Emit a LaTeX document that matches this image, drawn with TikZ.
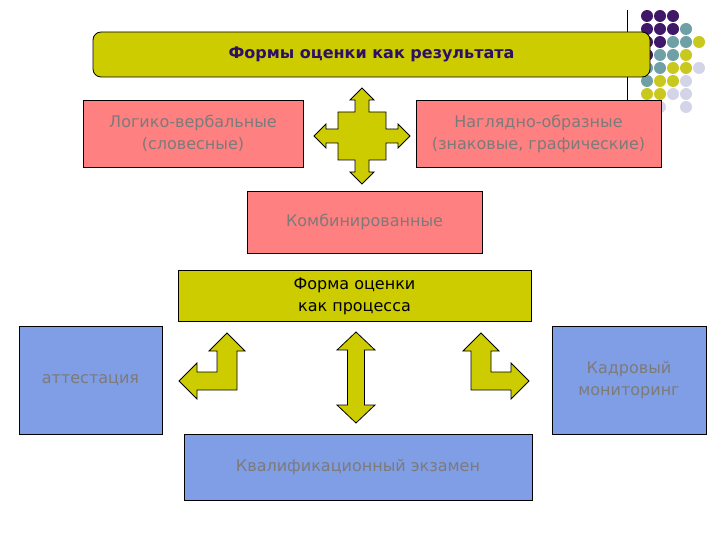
\documentclass[tikz,border=0pt]{standalone}
\usepackage{fontspec}
\setmainfont{DejaVu Sans}
\definecolor{OliveClr}{RGB}{204,204,0}
\definecolor{PinkClr}{RGB}{255,128,128}
\definecolor{BlueClr}{RGB}{128,158,230}
\definecolor{GrayTxtClr}{RGB}{125,122,122}
\definecolor{TitleClr}{RGB}{45,15,100}
\definecolor{PurpleClr}{RGB}{64,24,104}
\definecolor{TealClr}{RGB}{110,160,165}
\definecolor{YellowClr}{RGB}{200,200,30}
\definecolor{LilacClr}{RGB}{212,212,232}

\begin{document}
\begin{tikzpicture}[x=1pt,y=-1pt,
  box/.style={draw=black,line width=0.8pt,inner sep=0pt,align=center,
    font=\fontsize{16}{22}\selectfont},
  pinkbox/.style={box,fill=PinkClr,text=GrayTxtClr},
  bluebox/.style={box,fill=BlueClr,text=GrayTxtClr},
  olivebox/.style={box,fill=OliveClr},
  blockarrow/.style={draw=black,line width=0.8pt,fill=OliveClr,line join=miter}]
\useasboundingbox (0,0) rectangle (720,540);

% dots in the corner
\foreach \c/\r/\clr in {0/0/PurpleClr,1/0/PurpleClr,2/0/PurpleClr,
  0/1/PurpleClr,1/1/PurpleClr,2/1/PurpleClr,3/1/TealClr,
  0/2/PurpleClr,1/2/PurpleClr,2/2/TealClr,3/2/TealClr,4/2/YellowClr,
  0/3/PurpleClr,1/3/TealClr,2/3/TealClr,3/3/YellowClr,
  0/4/TealClr,1/4/TealClr,2/4/YellowClr,3/4/YellowClr,4/4/LilacClr,
  0/5/TealClr,1/5/YellowClr,2/5/YellowClr,3/5/LilacClr,
  0/6/YellowClr,1/6/YellowClr,2/6/LilacClr,3/6/LilacClr,
  1/7/LilacClr,3/7/LilacClr}
  \fill[\clr] (647+13*\c,16+13*\r) circle [radius=6pt];
\draw[line width=0.8pt] (627,10) -- (627,100);

% result
\node[olivebox,rounded corners=8pt,minimum width=557pt,minimum height=45pt,
  text=TitleClr,font=\fontsize{16}{19}\selectfont\bfseries] (Result) at (371.5,54.5)
  {Формы оценки как результата};
\node[pinkbox,minimum width=220pt,minimum height=67pt] (Verbal) at (193,133.5)
  {Логико-вербальные\\(словесные)};
\node[pinkbox,minimum width=245pt,minimum height=67pt] (Visual) at (538.5,133.5)
  {Наглядно-образные\\(знаковые, графические)};
\node[pinkbox,minimum width=235pt,minimum height=62pt] (Combined) at (364.5,222)
  {Комбинированные};

\coordinate (Cross) at (362,136);
\draw[blockarrow,shift={(Cross)}] (0,-48) -- (12,-36) -- (7,-36) -- (7,-24)
  -- (24,-24) -- (24,-7) -- (36,-7) -- (36,-12) -- (48,0) -- (36,12) -- (36,7)
  -- (24,7) -- (24,24) -- (7,24) -- (7,36) -- (12,36) -- (0,48) -- (-12,36)
  -- (-7,36) -- (-7,24) -- (-24,24) -- (-24,7) -- (-36,7) -- (-36,12) -- (-48,0)
  -- (-36,-12) -- (-36,-7) -- (-24,-7) -- (-24,-24) -- (-7,-24) -- (-7,-36)
  -- (-12,-36) -- cycle;

% process
\node[olivebox,minimum width=353pt,minimum height=51pt] (Process) at (354.5,296)
  {Форма оценки\\как процесса};
\node[bluebox,minimum width=143pt,minimum height=108pt] (Attest) at (90.5,380)
  {\raisebox{-3pt}{аттестация}};
\node[bluebox,minimum width=154pt,minimum height=108pt] (Monitor) at (629,380)
  {\raisebox{-2pt}{Кадровый}\\\raisebox{-2pt}{мониторинг}};
\node[bluebox,minimum width=348pt,minimum height=66pt] (Exam) at (358,467)
  {Квалификационный экзамен};

\coordinate (BendL) at (227,381);
\coordinate (BendR) at (481,381);
\coordinate (Updown) at (356,377.5);
\draw[blockarrow,shift={(BendL)}] (0,-48) -- (18,-30) -- (10,-30) -- (10,9)
  -- (-30,9) -- (-30,18) -- (-48,0) -- (-30,-18) -- (-30,-9) -- (-10,-9)
  -- (-10,-30) -- (-18,-30) -- cycle;
\draw[blockarrow,shift={(BendR)},xscale=-1] (0,-48) -- (18,-30) -- (10,-30)
  -- (10,9) -- (-30,9) -- (-30,18) -- (-48,0) -- (-30,-18) -- (-30,-9)
  -- (-10,-9) -- (-10,-30) -- (-18,-30) -- cycle;
\draw[blockarrow,shift={(Updown)}] (0,-45.5) -- (19,-27.5) -- (8.5,-27.5)
  -- (8.5,27.5) -- (19,27.5) -- (0,45.5) -- (-19,27.5) -- (-8.5,27.5)
  -- (-8.5,-27.5) -- (-19,-27.5) -- cycle;

\end{tikzpicture}
\end{document}
